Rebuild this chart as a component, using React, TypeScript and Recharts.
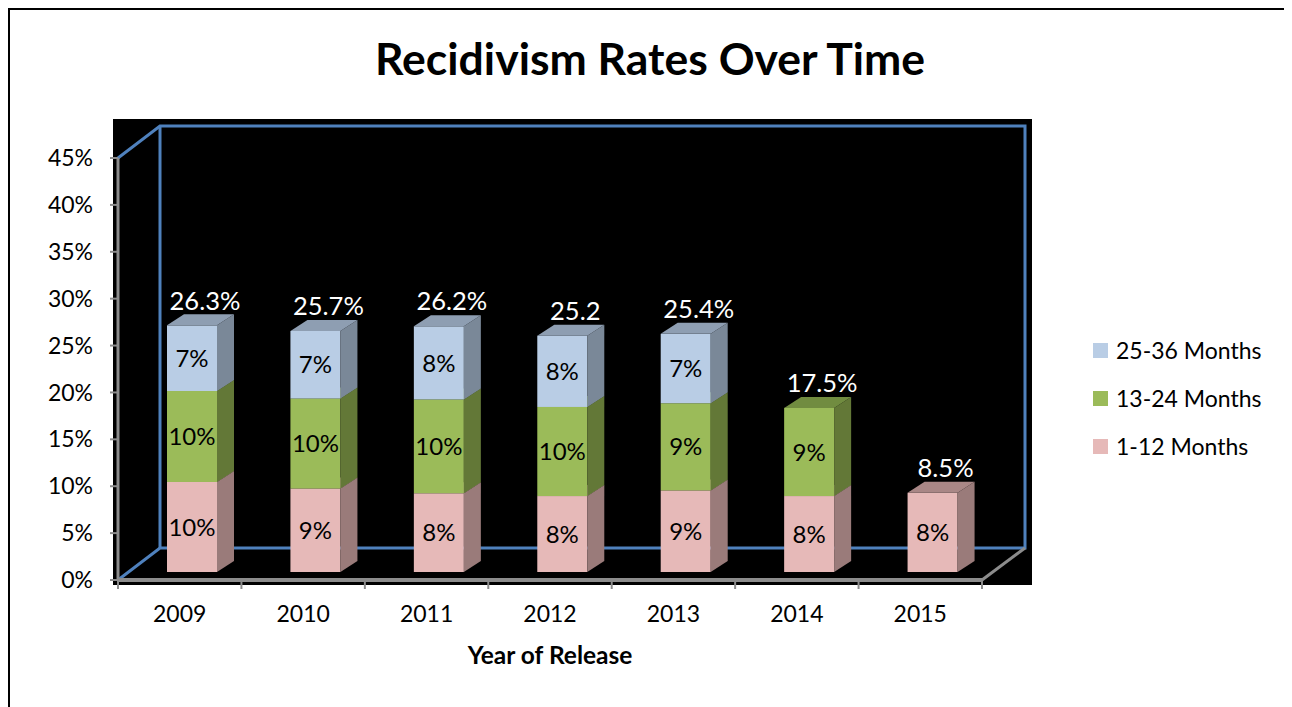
import React from 'react';
import { BarChart, Bar, XAxis, YAxis, Legend, LabelList } from 'recharts';

const years = ['2009', '2010', '2011', '2012', '2013', '2014', '2015'];
// percent of releasees returned, by time since release
const months1to12 = [9.6, 8.9, 8.4, 8.1, 8.7, 8.1, 8.45];
const months13to24 = [9.7, 9.6, 10.0, 9.5, 9.3, 9.4, null];
const months25to36 = [7.0, 7.2, 7.8, 7.6, 7.4, null, null];
const totalLabels = ['26.3%', '25.7%', '26.2%', '25.2', '25.4%', '17.5%', '8.5%'];
const yTicks = [0, 5, 10, 15, 20, 25, 30, 35, 40, 45];

const W = 1284;
const H = 699;
// plot box (chart coords)
const PL = 110;
const PT = 150;
const PR = 974;
const PB = 572;
const HALF_BAND = (PR - PL) / years.length / 2;

// fake 3d: front face offset and depth
const OX = 12;
const OY = -8;
const DX = 17;
const DY = 11;

const series = [
  { key: 'm1', name: '1-12 Months', values: months1to12, front: '#E6B9B8', side: '#9A7B7A', top: '#A98786' },
  { key: 'm2', name: '13-24 Months', values: months13to24, front: '#9BBB59', side: '#637837', top: '#718C40' },
  { key: 'm3', name: '25-36 Months', values: months25to36, front: '#B9CDE5', side: '#7A8898', top: '#8E9EB2' },
];

const data = years.map((year, i) => {
  const row: any = { year, total: totalLabels[i] };
  series.forEach(s => { row[s.key] = s.values[i]; });
  row.top = [...series].reverse().find(s => s.values[i] != null)?.key;
  return row;
});

const make3D = (s: any) => (props: any) => {
  const { x, y, width, height } = props;
  if (!height || height <= 0) return <g />;
  const fx = x + OX;
  const fy = y + OY;
  return (
    <g>
      <rect x={fx} y={fy} width={width} height={height} fill={s.front} />
      <polygon
        points={`${fx + width},${fy + height} ${fx + width + DX},${fy + height - DY} ${fx + width + DX},${fy - DY} ${fx + width},${fy}`}
        fill={s.side}
      />
      <polygon
        points={`${fx},${fy} ${fx + DX},${fy - DY} ${fx + width + DX},${fy - DY} ${fx + width},${fy}`}
        fill={s.top}
      />
    </g>
  );
};

const segmentLabel = (p: any) => {
  const vb = p.viewBox || p;
  if (p.value == null || !vb.height) return null;
  return (
    <text
      x={vb.x + OX + vb.width / 2}
      y={vb.y + OY + vb.height / 2}
      dy="0.36em"
      textAnchor="middle"
      fontSize={24}
      fill="#000"
    >
      {`${Math.round(p.value)}%`}
    </text>
  );
};

const totalLabel = (p: any) => {
  const vb = p.viewBox || p;
  if (p.value == null) return null;
  return (
    <text
      x={vb.x + OX + vb.width / 2 + 13}
      y={vb.y + OY - 25}
      dy="0.36em"
      textAnchor="middle"
      fontSize={25.5}
      fill="#fff"
    >
      {p.value}
    </text>
  );
};

const YearTick = (props: any) => {
  const { x, y, payload, index } = props;
  const axisY = PB;
  const last = index === years.length - 1;
  return (
    <g>
      <line x1={x - HALF_BAND} x2={x - HALF_BAND} y1={axisY} y2={axisY + 9} stroke="#8C8C8C" strokeWidth={2} />
      {last && <line x1={x + HALF_BAND} x2={x + HALF_BAND} y1={axisY} y2={axisY + 9} stroke="#8C8C8C" strokeWidth={2} />}
      <text x={x} y={y} dy="0.71em" textAnchor="middle" fontSize={23} fill="#000">
        {payload.value}
      </text>
    </g>
  );
};

const renderLegend = (props: any) => {
  const items = [...(props.payload || [])].reverse();
  return (
    <div>
      {items.map((it: any) => (
        <div key={it.value} style={{ display: 'flex', alignItems: 'center', height: 48 }}>
          <span style={{ width: 15, height: 15, background: it.color, marginRight: 8, display: 'inline-block' }} />
          <span style={{ fontSize: 23, color: '#000' }}>{it.value}</span>
        </div>
      ))}
    </div>
  );
};

const Backdrop = () => {
  const blue = '#4F81BD';
  const wx = 42;
  const wy = 32;
  return (
    <svg width={W} height={H} style={{ position: 'absolute', left: 0, top: 0 }}>
      <path d={`M1,${H} L1,1 L${W},1`} stroke="#000" strokeWidth={2} fill="none" />
      <text x={642} y={67} textAnchor="middle" fontSize={44.5} fontWeight={700} fill="#000">
        Recidivism Rates Over Time
      </text>
      <rect x={PL - 5} y={PT - 39} width={PR - PL + 55} height={PB - PT + 44} fill="#000" />
      <g stroke={blue} strokeWidth={3} fill="none">
        <polyline points={`${PL},${PT} ${PL + wx},${PT - wy} ${PR + wx + 1},${PT - wy} ${PR + wx + 1},${PB - wy} ${PL + wx},${PB - wy} ${PL},${PB}`} />
        <line x1={PL + wx} y1={PT - wy} x2={PL + wx} y2={PB - wy} />
      </g>
      <line x1={PR} y1={PB} x2={PR + wx + 1} y2={PB - wy} stroke="#8C8C8C" strokeWidth={3} />
    </svg>
  );
};

export default function App() {
  return (
    <div style={{ position: 'relative', width: W, height: H, fontFamily: 'Lato, "Noto Sans", sans-serif' }}>
      <Backdrop />
      <BarChart
        width={W}
        height={H}
        data={data}
        margin={{ top: PT, right: W - PR, bottom: H - PB - 90, left: 0 }}
        barSize={50}
      >
        <XAxis
          dataKey="year"
          height={90}
          axisLine={{ stroke: '#8C8C8C', strokeWidth: 4 }}
          tickLine={false}
          tickSize={8}
          tickMargin={18}
          tick={<YearTick />}
          label={{ value: 'Year of Release', position: 'insideBottom', offset: 6, fill: '#000', fontSize: 24.5, fontWeight: 700 }}
        />
        <YAxis
          width={PL}
          domain={[0, 45]}
          ticks={yTicks}
          tickFormatter={(v: number) => `${v}%`}
          axisLine={{ stroke: '#8C8C8C', strokeWidth: 3 }}
          tickLine={{ stroke: '#8C8C8C', strokeWidth: 2 }}
          tickSize={8}
          tickMargin={17}
          tick={{ fill: '#000', fontSize: 23 }}
        />
        <Legend
          layout="vertical"
          align="center"
          verticalAlign="middle"
          content={renderLegend}
          wrapperStyle={{ left: 1085, top: 318, width: 200 }}
        />
        {series.map(s => (
          <Bar
            key={s.key}
            dataKey={s.key}
            name={s.name}
            stackId="a"
            fill={s.front}
            shape={make3D(s)}
            isAnimationActive={false}
          >
            <LabelList dataKey={s.key} content={segmentLabel} />
            <LabelList dataKey={(d: any) => (d.top === s.key ? d.total : null)} content={totalLabel} />
          </Bar>
        ))}
      </BarChart>
    </div>
  );
}
